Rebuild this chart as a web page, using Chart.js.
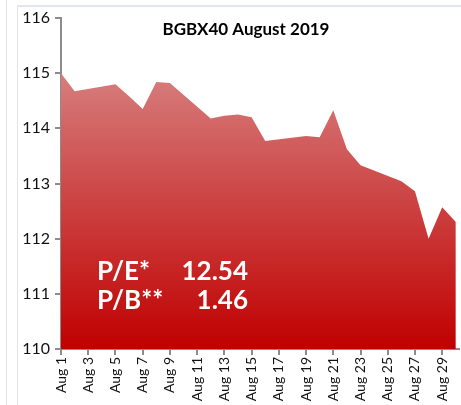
<!DOCTYPE html>
<html>
<head>
<meta charset="utf-8">
<script src="https://cdn.jsdelivr.net/npm/chart.js@4/dist/chart.umd.min.js"></script>
<style>
  html, body { margin: 0; padding: 0; background: #fff; }
  #wrap { position: relative; width: 461px; height: 405px; overflow: hidden; }
  .edge { position: absolute; background: #dfe6ee; }
  canvas { position: absolute; left: 0; top: 0; }
</style>
</head>
<body>
<div id="wrap">
  <div class="edge" style="left:6px; top:0; width:1px; height:405px;"></div>
  <div class="edge" style="left:17px; top:5px; width:1px; height:400px;"></div>
  <div class="edge" style="left:17px; top:5px; width:444px; height:2px;"></div>
  <canvas id="bgbx" width="461" height="405"></canvas>
</div>
<script>
// trading days of August 2019 and index close
const tradingDays = [1, 2, 5, 6, 7, 8, 9, 12, 13, 14, 15, 16, 19, 20, 21, 22, 23, 26, 27, 28, 29, 30];
const closes = [115.00, 114.67, 114.80, 114.58, 114.35, 114.84, 114.82, 114.18, 114.23, 114.25, 114.20, 113.77,
                113.86, 113.84, 114.33, 113.62, 113.33, 113.04, 112.86, 112.00, 112.57, 112.30];
const tickDays = [1, 3, 5, 7, 9, 11, 13, 15, 17, 19, 21, 23, 25, 27, 29];
const tickLabels = ['Aug 1', 'Aug 3', 'Aug 5', 'Aug 7', 'Aug 9', 'Aug 11', 'Aug 13', 'Aug 15',
                    'Aug 17', 'Aug 19', 'Aug 21', 'Aug 23', 'Aug 25', 'Aug 27', 'Aug 29'];
const yTicks = [110, 111, 112, 113, 114, 115, 116];
const titleText = 'BGBX40 August 2019';
const ratioNames = ['P/E*', 'P/B**'];
const ratioValues = ['12.54', '1.46'];

const axisGrey = '#8c8c8c';

// title and P/E, P/B notes drawn inside the plot
const notes = {
    id: 'notes',
    afterDraw(chart) {
        const c = chart.ctx;
        c.save();
        c.fillStyle = '#000';
        c.font = 'bold 17px Lato';
        c.textAlign = 'center';
        c.textBaseline = 'alphabetic';
        c.fillText(titleText, 246, 35);
        c.fillStyle = '#fff';
        c.font = 'bold 26px Lato';
        ratioNames.forEach((n, i) => {
            const y = 280 + i * 29;
            c.textAlign = 'left';
            c.fillText(n, 97, y);
            c.textAlign = 'right';
            c.fillText(ratioValues[i], 248, y);
        });
        c.restore();
    }
};

new Chart(document.getElementById('bgbx').getContext('2d'), {
    type: 'line',
    data: {
        datasets: [{
            data: tradingDays.map((d, i) => ({ x: d, y: closes[i] })),
            fill: 'start',
            borderWidth: 0,
            pointRadius: 0,
            tension: 0,
            backgroundColor: (ctx) => {
                const a = ctx.chart.chartArea;
                if (!a) return '#c00000';
                const g = ctx.chart.ctx.createLinearGradient(0, a.top, 0, a.bottom);
                g.addColorStop(0, '#dc9696');
                g.addColorStop(1, '#c00000');
                return g;
            }
        }]
    },
    options: {
        responsive: false,
        animation: false,
        layout: { padding: { left: 0, right: 0, top: 18, bottom: 0 } },
        plugins: { legend: { display: false }, tooltip: { enabled: false }, title: { display: false } },
        scales: {
            x: {
                type: 'linear',
                min: 1,
                max: 30.2,
                afterBuildTicks: (s) => { s.ticks = tickDays.map(v => ({ value: v })); },
                afterFit: (s) => { s.height = 56; },
                border: { display: true, color: axisGrey, width: 2 },
                grid: { drawOnChartArea: false, drawTicks: true, tickLength: 6, color: axisGrey, lineWidth: 2 },
                ticks: {
                    autoSkip: false,
                    minRotation: 90,
                    maxRotation: 90,
                    padding: 2,
                    color: '#111',
                    font: { family: 'Lato', size: 14 },
                    callback: (v) => tickLabels[tickDays.indexOf(v)]
                }
            },
            y: {
                min: 110,
                max: 116,
                afterBuildTicks: (s) => { s.ticks = yTicks.map(v => ({ value: v })); },
                afterFit: (s) => { s.width = 61; },
                border: { display: true, color: axisGrey, width: 2 },
                grid: { drawOnChartArea: false, drawTicks: true, tickLength: 6, color: axisGrey, lineWidth: 2 },
                ticks: {
                    padding: 5,
                    color: '#111',
                    font: { family: 'Lato', size: 16 }
                }
            }
        }
    },
    plugins: [notes]
});
</script>
</body>
</html>
